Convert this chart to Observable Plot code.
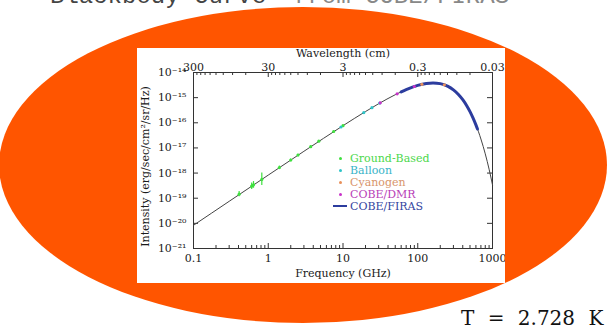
<!DOCTYPE html>
<html><head><meta charset="utf-8">
<script src="https://cdn.jsdelivr.net/npm/d3@7"></script>
<script src="https://cdn.jsdelivr.net/npm/@observablehq/plot@0.6"></script>
<style>
html,body{margin:0;padding:0;background:#fff;width:607px;height:335px;overflow:hidden;}
#stage{position:relative;width:607px;height:335px;overflow:hidden;}
#bg{position:absolute;left:0;top:0;}
#chart{position:absolute;left:137px;top:48px;}
#legend{position:absolute;left:333px;top:152px;font:11px "DejaVu Serif";}
#legend .row{display:flex;align-items:center;height:12px;}
#legend .mk{width:14px;height:12px;display:flex;align-items:center;justify-content:center;margin-right:3px;}
</style></head>
<body><div id="stage">
<svg id="bg" width="607" height="335">
  <ellipse cx="303" cy="165" rx="304" ry="158" fill="#ff5500"></ellipse>
  <text x="50" y="3" font-family="Liberation Mono" font-size="24" fill="#444">Blackbody Curve</text>
  <text x="293" y="3" font-family="Liberation Mono" font-size="24" fill="#888">from COBE/FIRAS</text>
  <text x="461" y="325" font-family="DejaVu Serif" font-size="20" word-spacing="7" fill="#111">T = 2.728 K</text>
</svg>
<div id="chart"></div>
<div id="legend"></div>
</div>
<script>
// Axis ticks and labels
const freqTicks = [0.1, 1, 10, 100, 1000];
const freqLabels = ["0.1", "1", "10", "100", "1000"];
const wlValues = [300, 30, 3, 0.3, 0.03];
const wlLabels = ["300", "30", "3", "0.3", "0.03"];
const yTicks = [1e-21, 1e-20, 1e-19, 1e-18, 1e-17, 1e-16, 1e-15, 1e-14];
const yLabels = ["10⁻²¹", "10⁻²⁰", "10⁻¹⁹", "10⁻¹⁸", "10⁻¹⁷", "10⁻¹⁶", "10⁻¹⁵", "10⁻¹⁴"];

// Blackbody curve (GHz, erg/sec/cm^2/sr/Hz)
const curveFreq = [0.1, 0.3, 1, 3, 10, 20, 30, 50, 70, 100, 130, 160, 200, 250, 300, 350, 400, 450, 500, 550, 600, 650, 700, 750, 800, 850, 900, 950, 1000];
const curveI = [8.38e-21, 7.52e-20, 8.30e-19, 7.34e-18, 7.67e-17, 2.80e-16, 5.73e-16, 1.306e-15, 2.084e-15, 3.07e-15, 3.66e-15, 3.85e-15, 3.61e-15, 2.87e-15, 2.04e-15, 1.34e-15, 8.30e-16, 4.90e-16, 2.79e-16, 1.54e-16, 8.28e-17, 4.38e-17, 2.26e-17, 1.156e-17, 5.82e-18, 2.90e-18, 1.43e-18, 6.97e-19, 3.37e-19];

// COBE/FIRAS
const firasFreq = [60, 70, 100, 130, 160, 200, 250, 300, 350, 400, 450, 500, 550, 600, 630];
const firasI = [1.70e-15, 2.084e-15, 3.07e-15, 3.66e-15, 3.85e-15, 3.61e-15, 2.87e-15, 2.04e-15, 1.34e-15, 8.30e-16, 4.90e-16, 2.79e-16, 1.54e-16, 8.28e-17, 5.66e-17];

// Ground-based
const groundFreq = [0.408, 0.6, 0.635, 0.82, 1.41, 2.0, 2.5, 3.7, 4.75, 7.5, 10];
const groundI = [1.45e-19, 3.0e-19, 3.4e-19, 5.6e-19, 1.65e-18, 3.3e-18, 5.2e-18, 1.12e-17, 1.85e-17, 4.5e-17, 7.7e-17];
const groundLo = [1.15e-19, 2.2e-19, 2.5e-19, 3.2e-19, 1.45e-18, 3.0e-18, 4.8e-18, 1.05e-17, 1.75e-17, 4.3e-17, 7.4e-17];
const groundHi = [1.85e-19, 4.0e-19, 4.6e-19, 1.0e-18, 1.9e-18, 3.6e-18, 5.6e-18, 1.2e-17, 1.95e-17, 4.7e-17, 8.0e-17];

// Balloon
const balloonFreq = [9.4, 19.0, 24.4, 31];
const balloonI = [6.8e-17, 2.54e-16, 3.99e-16, 6.1e-16];

// Cyanogen
const cyanFreq = [113.6, 227];
const cyanI = [3.38e-15, 3.22e-15];

// COBE/DMR
const dmrFreq = [31.5, 53, 90];
const dmrI = [6.22e-16, 1.42e-15, 2.77e-15];

const seriesNames = ["Ground-Based", "Balloon", "Cyanogen", "COBE/DMR", "COBE/FIRAS"];
const seriesColors = ["#3fe03f", "#2ec4c8", "#e8905a", "#c832c8", "#2c3c9e"];
const textColors = ["#4bd84b", "#3ab4c8", "#d8946a", "#b83cb8", "#3444a0"];

const zip = (f, v) => f.map((d, i) => ({f: d, I: v[i]}));
const curve = zip(curveFreq, curveI);
const firas = zip(firasFreq, firasI);
const ground = groundFreq.map((d, i) => ({f: d, I: groundI[i], lo: groundLo[i], hi: groundHi[i]}));
const balloon = zip(balloonFreq, balloonI);
const cyan = zip(cyanFreq, cyanI);
const dmr = zip(dmrFreq, dmrI);

const wlFreqs = wlValues.map(l => 30 / l);
const xMinor = [];
for (const dec of [0.1, 1, 10, 100]) for (let m = 2; m <= 9; m++) xMinor.push(dec * m);
const topMinor = [];
for (const dec of [0.03, 0.3, 3, 30]) for (let m = 2; m <= 9; m++) topMinor.push(30 / (dec * m));

const W = 368, H = 235, mL = 56, mR = 13, mT = 24, mB = 35;
const fw = W - mL - mR, fh = H - mT - mB;
const ink = "#333";

const chart = Plot.plot({
  width: W, height: H,
  marginLeft: mL, marginRight: mR, marginTop: mT, marginBottom: mB,
  style: {fontFamily: "DejaVu Serif", fontSize: "11px", background: "#fff", color: "#1a1a1a"},
  x: {type: "log", domain: [0.1, 1000]},
  y: {type: "log", domain: [1e-21, 1e-14]},
  marks: [
    Plot.frame({stroke: ink}),
    Plot.tickX(freqTicks, {insetTop: fh - 5, stroke: ink}),
    Plot.tickX(xMinor, {insetTop: fh - 3, stroke: ink}),
    Plot.tickX(wlFreqs, {insetBottom: fh - 5, stroke: ink}),
    Plot.tickX(topMinor, {insetBottom: fh - 3, stroke: ink}),
    Plot.tickY(yTicks, {insetRight: fw - 5, stroke: ink}),
    Plot.tickY(yTicks, {insetLeft: fw - 5, stroke: ink}),
    Plot.axisX({anchor: "bottom", ticks: freqTicks, tickFormat: d => freqLabels[freqTicks.indexOf(d)], tickSize: 0, tickPadding: 6, fontSize: 11, label: null}),
    Plot.axisX({anchor: "top", ticks: wlFreqs, tickFormat: d => wlLabels[wlFreqs.indexOf(d)], tickSize: 0, tickPadding: 2, fontSize: 11, label: null}),
    Plot.axisY({anchor: "left", ticks: yTicks, tickFormat: d => yLabels[yTicks.indexOf(d)], tickSize: 0, tickPadding: 7, fontSize: 11, label: null}),
    Plot.text(["Frequency (GHz)"], {frameAnchor: "bottom", dy: 28, fontSize: 11}),
    Plot.text(["Wavelength (cm)"], {frameAnchor: "top", dy: -23, fontSize: 11}),
    Plot.text(["Intensity (erg/sec/cm²/sr/Hz)"], {frameAnchor: "left", textAnchor: "middle", rotate: -90, dx: -48, dy: 6, fontSize: 11}),
    Plot.line(curve, {x: "f", y: "I", stroke: "#444", strokeWidth: 1, curve: "monotone-x"}),
    Plot.line(firas, {x: "f", y: "I", stroke: seriesColors[4], strokeWidth: 3, curve: "monotone-x"}),
    Plot.ruleX(ground, {x: "f", y1: "lo", y2: "hi", stroke: seriesColors[0], strokeWidth: 1.2}),
    Plot.dot(ground, {x: "f", y: "I", r: 1.6, fill: seriesColors[0]}),
    Plot.dot(balloon, {x: "f", y: "I", r: 1.6, fill: seriesColors[1]}),
    Plot.dot(cyan, {x: "f", y: "I", r: 1.6, fill: seriesColors[2]}),
    Plot.dot(dmr, {x: "f", y: "I", r: 1.6, fill: seriesColors[3]})
  ]
});
document.getElementById("chart").appendChild(chart);

const legend = document.getElementById("legend");
seriesNames.forEach((name, i) => {
  const row = document.createElement("div");
  row.className = "row";
  const mk = document.createElement("span");
  mk.className = "mk";
  const sym = document.createElement("span");
  if (i === 4) { sym.style.cssText = `display:block;width:14px;height:2px;background:${seriesColors[i]}`; }
  else { sym.style.cssText = `display:block;width:3px;height:3px;border-radius:50%;background:${seriesColors[i]}`; }
  mk.appendChild(sym);
  const tx = document.createElement("span");
  tx.textContent = name;
  tx.style.color = textColors[i];
  row.appendChild(mk); row.appendChild(tx);
  legend.appendChild(row);
});
</script>
</body></html>
